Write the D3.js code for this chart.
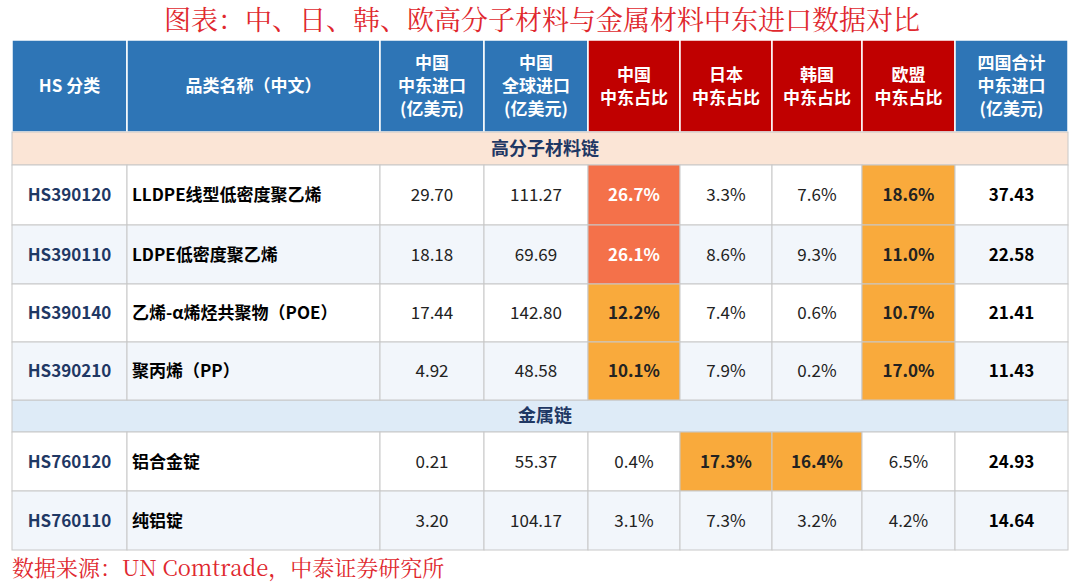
<!DOCTYPE html>
<html><head><meta charset="utf-8">
<script src="https://cdn.jsdelivr.net/npm/d3@7"></script>
<style>body{margin:0;background:#fff;}</style>
</head><body>
<svg id="chart" width="1080" height="585"></svg>
<script>
var headers = [["HS 分类"],["品类名称（中文）"],["中国","中东进口","(亿美元)"],["中国","全球进口","(亿美元)"],["中国","中东占比"],["日本","中东占比"],["韩国","中东占比"],["欧盟","中东占比"],["四国合计","中东进口","(亿美元)"]];
var headFill = ["#2e75b6","#2e75b6","#2e75b6","#2e75b6","#c00000","#c00000","#c00000","#c00000","#2e75b6"];
var sections = ["高分子材料链","金属链"];
var codes = ["HS390120","HS390110","HS390140","HS390210","HS760120","HS760110"];
var names = ["LLDPE线型低密度聚乙烯","LDPE低密度聚乙烯","乙烯-α烯烃共聚物（POE）","聚丙烯（PP）","铝合金锭","纯铝锭"];
var cnME = ["29.70","18.18","17.44","4.92","0.21","3.20"];
var cnGlobal = ["111.27","69.69","142.80","48.58","55.37","104.17"];
var cnShare = [26.7,26.1,12.2,10.1,0.4,3.1];
var jpShare = [3.3,8.6,7.4,7.9,17.3,7.3];
var krShare = [7.6,9.3,0.6,0.2,16.4,3.2];
var euShare = [18.6,11.0,10.7,17.0,6.5,4.2];
var total = ["37.43","22.58","21.41","11.43","24.93","14.64"];

var svg = d3.select("#chart");
var colX = [12,127,380,484,588,680,772,862,955,1068];
var font = "'Noto Sans CJK SC', 'Noto Sans', sans-serif";

svg.append("text").attr("x",542).attr("y",30).attr("text-anchor","middle")
  .attr("font-family","'Noto Serif CJK SC','Noto Sans CJK SC',serif").attr("font-size",27).attr("fill","#e0282e")
  .text("图表：中、日、韩、欧高分子材料与金属材料中东进口数据对比");

// header
var hy0 = 40, hy1 = 132;
headers.forEach(function(h,i){
  svg.append("rect").attr("x",colX[i]).attr("y",hy0).attr("width",colX[i+1]-colX[i]).attr("height",hy1-hy0)
    .attr("fill",headFill[i]).attr("stroke","#fff").attr("stroke-width",1.5);
  var cx = (colX[i]+colX[i+1])/2, lh = 23, start = (hy0+hy1)/2 - (h.length-1)*lh/2;
  h.forEach(function(t,j){
    svg.append("text").attr("x",cx).attr("y",start+j*lh).attr("dy","0.36em").attr("text-anchor","middle")
      .attr("font-family",font).attr("font-weight","bold").attr("font-size",17).attr("fill","#fff").text(t);
  });
});

// rows
var ys = [[165,225],[225,284],[284,342],[342,400],[432,491],[491,550]];
var secY = [[132,165],[400,432]];
var secFill = ["#fbe5d6","#deebf7"];
secY.forEach(function(s,i){
  svg.append("rect").attr("x",colX[0]).attr("y",s[0]).attr("width",colX[9]-colX[0]).attr("height",s[1]-s[0])
    .attr("fill",secFill[i]).attr("stroke","#c8c8c8");
  svg.append("text").attr("x",545).attr("y",(s[0]+s[1])/2).attr("dy","0.36em").attr("text-anchor","middle")
    .attr("font-family",font).attr("font-weight","bold").attr("font-size",18).attr("fill","#1f3864").text(sections[i]);
});

function shareFill(v){ return v>=20 ? "#f4714a" : (v>=10 ? "#f9aa3c" : null); }

codes.forEach(function(c,r){
  var y0 = ys[r][0], y1 = ys[r][1], cy = (y0+y1)/2;
  var rowBg = (r%2===1) ? "#f2f6fb" : "#fff";
  var cells = [
    {t:c, w:"bold", col:"#1f3864", a:"middle"},
    {t:names[r], w:"bold", col:"#000", a:"start"},
    {t:cnME[r], col:"#222"},
    {t:cnGlobal[r], col:"#222"},
    {t:cnShare[r].toFixed(1)+"%", v:cnShare[r]},
    {t:jpShare[r].toFixed(1)+"%", v:jpShare[r]},
    {t:krShare[r].toFixed(1)+"%", v:krShare[r]},
    {t:euShare[r].toFixed(1)+"%", v:euShare[r]},
    {t:total[r], w:"bold", col:"#000"}
  ];
  cells.forEach(function(cell,i){
    var f = cell.v!==undefined ? shareFill(cell.v) : null;
    svg.append("rect").attr("x",colX[i]).attr("y",y0).attr("width",colX[i+1]-colX[i]).attr("height",y1-y0)
      .attr("fill",f||rowBg).attr("stroke","#c8c8c8");
    var tc = cell.col || (f ? (cell.v>=20 ? "#fff" : "#222") : "#222");
    svg.append("text").attr("x",cell.a==="start"?colX[i]+5:(colX[i]+colX[i+1])/2).attr("y",cy).attr("dy","0.36em")
      .attr("text-anchor",cell.a||"middle").attr("font-family",font)
      .attr("font-weight",cell.w||(f?"bold":"normal")).attr("font-size",17).attr("fill",tc).text(cell.t);
  });
});

svg.append("text").attr("x",12).attr("y",576).attr("font-family","'Noto Serif CJK SC','Liberation Serif',serif")
  .attr("font-size",22).attr("fill","#e0282e").text("数据来源：UN Comtrade，中泰证券研究所");
</script>
</body></html>
